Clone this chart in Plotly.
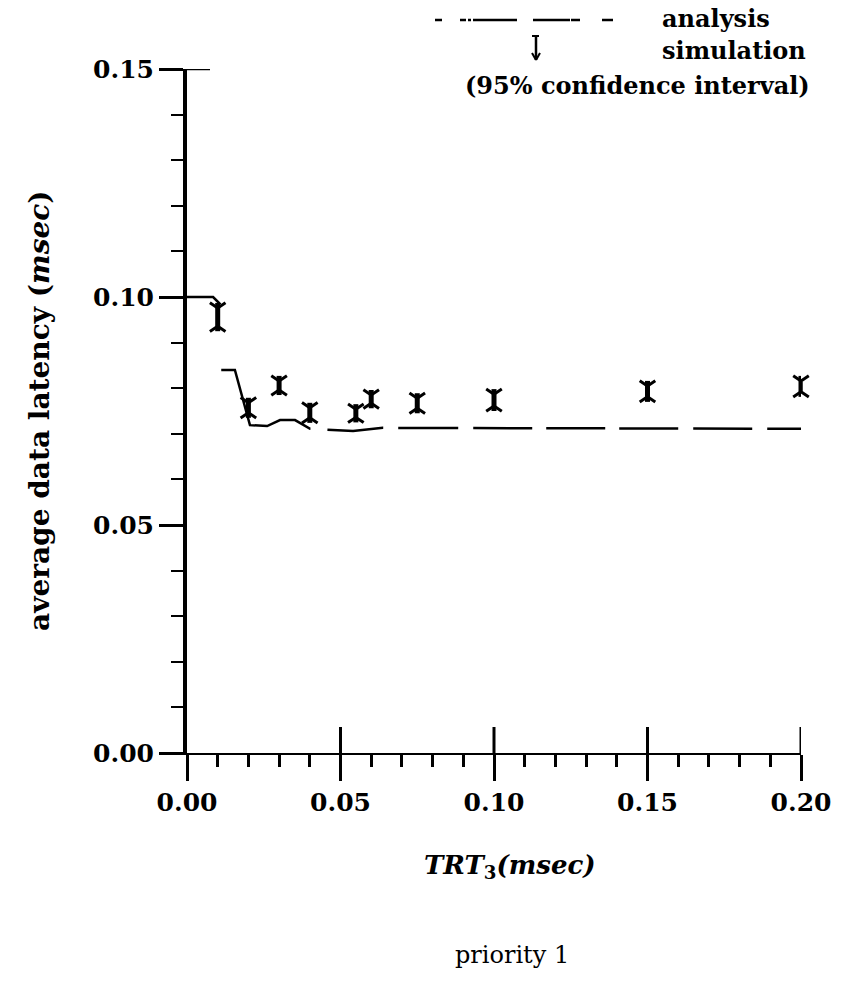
import plotly.graph_objects as go

# ---------------- data ----------------
# analysis curve
analysis_x = [0.0, 0.0085, 0.0107, 0.0111, 0.0156, 0.0205, 0.0261, 0.0303, 0.0352,
              0.0401, 0.0541, 0.0638, 0.2000]
analysis_y = [0.1000, 0.1000, 0.0985, 0.0840, 0.0840, 0.0719, 0.0717, 0.0730, 0.0730,
              0.0711, 0.0706, 0.0713, 0.0711]

# simulation results with 95% confidence half-widths
sim_x = [0.01, 0.02, 0.03, 0.04, 0.055, 0.06, 0.075, 0.10, 0.15, 0.20]
sim_y = [0.0956, 0.0757, 0.0806, 0.0746, 0.0745, 0.0776, 0.0767, 0.0774, 0.0793, 0.0804]
sim_hw = [0.0031, 0.0022, 0.0021, 0.0022, 0.0020, 0.0020, 0.0022, 0.0024, 0.0023, 0.0023]

x_major = [0.0, 0.05, 0.10, 0.15, 0.20]
y_major = [0.0, 0.05, 0.10, 0.15]

FONT = "DejaVu Serif"
BLACK = "#000000"

fig = go.Figure()

# analysis line
fig.add_trace(go.Scatter(
    x=analysis_x, y=analysis_y, mode="lines",
    line=dict(color=BLACK, width=2.5,
              dash="36px,66px,135px,17px,56px,15px,60px,15px,59px,14px,59px,14px,59px,15px,59px,15px,200px,400px"),
    showlegend=False, cliponaxis=False, hoverinfo="skip"))

# simulation: thick vertical bar for the interval
fig.add_trace(go.Scatter(
    x=sim_x, y=sim_y, mode="markers",
    marker=dict(size=1, color=BLACK),
    error_y=dict(type="data", array=sim_hw, visible=True, color=BLACK, thickness=5, width=0),
    showlegend=False, cliponaxis=False, hoverinfo="skip"))

CAP = 0.0011  # cap arms end at the interval limits
fig.add_trace(go.Scatter(
    x=sim_x, y=[y + h - CAP for y, h in zip(sim_y, sim_hw)], mode="markers",
    marker=dict(symbol="y-down", size=13, line=dict(color=BLACK, width=3)),
    showlegend=False, cliponaxis=False, hoverinfo="skip"))
fig.add_trace(go.Scatter(
    x=sim_x, y=[y - h + CAP for y, h in zip(sim_y, sim_hw)], mode="markers",
    marker=dict(symbol="y-up", size=13, line=dict(color=BLACK, width=3)),
    showlegend=False, cliponaxis=False, hoverinfo="skip"))

shapes = []
# upward half of the major x ticks
for xv in x_major[1:]:
    shapes.append(dict(type="line", xref="x", yref="y", ysizemode="pixel", yanchor=0,
                       x0=xv, x1=xv, y0=0, y1=26, line=dict(color=BLACK, width=3)))
# right stub of the top y tick
shapes.append(dict(type="line", xref="x", yref="y", xsizemode="pixel", xanchor=0,
                   x0=0, x1=23, y0=y_major[-1], y1=y_major[-1], line=dict(color=BLACK, width=2.5)))

def px2paper(px, py):
    return (px - 187) / 614, (753 - py) / 684

# legend: analysis line sample
lx0, ly = px2paper(435, 20)
lx1, _ = px2paper(613, 20)
shapes.append(dict(type="line", xref="paper", yref="paper", x0=lx0, x1=lx1, y0=ly, y1=ly,
                   line=dict(color=BLACK, width=2.5,
                             dash="7px,18px,6px,2px,3px,2px,44px,16px,37px,1px,9px,22px,11px")))
# legend: simulation glyph (bar with arrow head)
gx, gy0 = px2paper(536, 36)
_, gy1 = px2paper(536, 60)
shapes.append(dict(type="line", xref="paper", yref="paper", x0=gx, x1=gx, y0=gy0, y1=gy1,
                   line=dict(color=BLACK, width=2.5)))
ax0, ay0 = px2paper(532, 53)
ax1, ay1 = px2paper(536, 60)
ax2, _ = px2paper(540, 53)
shapes.append(dict(type="line", xref="paper", yref="paper", x0=ax0, x1=ax1, y0=ay0, y1=ay1,
                   line=dict(color=BLACK, width=2)))
shapes.append(dict(type="line", xref="paper", yref="paper", x0=ax2, x1=ax1, y0=ay0, y1=ay1,
                   line=dict(color=BLACK, width=2)))
tx0, ty = px2paper(532, 36)
tx1, _ = px2paper(539, 36)
shapes.append(dict(type="line", xref="paper", yref="paper", x0=tx0, x1=tx1, y0=ty, y1=ty,
                   line=dict(color=BLACK, width=2)))

annotations = []
def ann(text, px, py, xanchor="center", size=24, weight="bold", style="normal", angle=0):
    x, y = px2paper(px, py)
    annotations.append(dict(text=text, x=x, y=y, xref="paper", yref="paper",
                            xanchor=xanchor, yanchor="middle", showarrow=False,
                            textangle=angle,
                            font=dict(family=FONT, size=size, color=BLACK, weight=weight, style=style)))

ann("analysis", 660, 19, xanchor="left", size=24)
ann("simulation", 660, 50, xanchor="left", size=24)
ann("(95% confidence interval)", 637, 85, size=24)
ann("average data latency (<i>msec</i>)", 39, 411, size=28, angle=-90)
ann("<i>TRT</i><sub>3</sub><i>(msec)</i>", 510, 866, size=26)
ann("priority 1", 512, 955, size=24, weight="normal")

fig.update_layout(
    width=855, height=990,
    margin=dict(l=187, r=54, t=69, b=237, autoexpand=False),
    paper_bgcolor="white", plot_bgcolor="white",
    showlegend=False,
    shapes=shapes, annotations=annotations,
    xaxis=dict(range=[0, 0.2], showgrid=False, zeroline=False,
               showline=True, linecolor=BLACK, linewidth=2,
               tickmode="array", tickvals=x_major, ticktext=[f"{v:.2f}" for v in x_major],
               ticks="outside", ticklen=26, tickwidth=3, tickcolor=BLACK,
               minor=dict(dtick=0.01, ticks="outside", ticklen=12, tickwidth=2.5, tickcolor=BLACK),
               tickfont=dict(family=FONT, size=25, color=BLACK, weight="bold")),
    yaxis=dict(range=[0, 0.15], showgrid=False, zeroline=False,
               showline=True, linecolor=BLACK, linewidth=4,
               tickmode="array", tickvals=y_major, ticktext=[f"{v:.2f}" for v in y_major],
               ticks="outside", ticklen=24, tickwidth=2.5, tickcolor=BLACK,
               minor=dict(dtick=0.01, ticks="outside", ticklen=12, tickwidth=2, tickcolor=BLACK),
               tickfont=dict(family=FONT, size=25, color=BLACK, weight="bold")),
)

fig.write_html("out.html")
